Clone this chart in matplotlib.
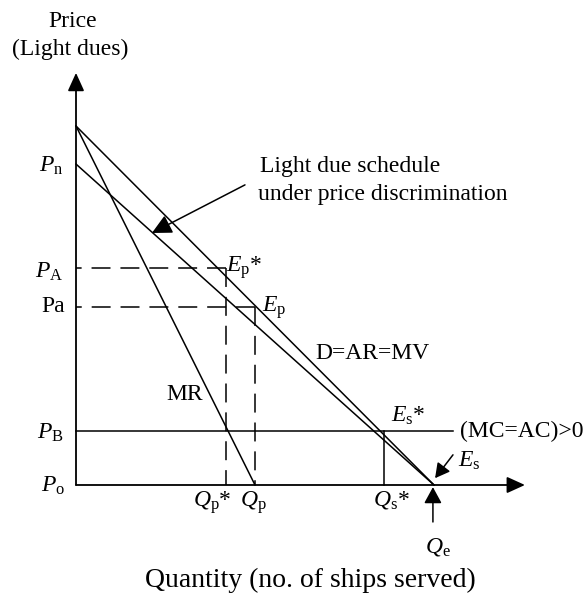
import matplotlib
matplotlib.use("Agg")
import matplotlib.pyplot as plt

plt.rcParams['font.family'] = ['Liberation Serif', 'DejaVu Serif']
plt.rcParams['mathtext.fontset'] = 'custom'
plt.rcParams['mathtext.rm'] = 'Liberation Serif'
plt.rcParams['mathtext.it'] = 'Liberation Serif:italic'

# curves (quantity, price)
demand_q = [0, 100]
demand_p = [100, 0]
mr_q = [0, 50]
mr_p = [100, 0]
schedule_q = [0, 100]
schedule_p = [89.4, 0]

# price levels
p_n = 89.4
p_A = 60.4
p_a = 49.6
p_B = 15.0
p_o = 0.0

# quantities
q_p_star = 42.0
q_p = 50.0
q_s_star = 86.0
q_e = 100.0
mc_end = 105.3

fig = plt.figure(figsize=(5.85, 5.97), dpi=100)
ax = fig.add_axes([0, 0, 1, 1])
ax.set_xlim(-21.23, 142.18)
ax.set_ylim(-31.2, 135.1)
ax.axis('off')

lw = 1.1
k = 'black'

# axes with arrow heads
ax.annotate('', xy=(0, 114.8), xytext=(0, 0),
            arrowprops=dict(arrowstyle='-|>,head_length=0.55,head_width=0.25',
                            mutation_scale=20, color=k, lw=1.3,
                            shrinkA=0, shrinkB=0))
ax.annotate('', xy=(125.4, 0), xytext=(0, 0),
            arrowprops=dict(arrowstyle='-|>,head_length=0.55,head_width=0.25',
                            mutation_scale=20, color=k, lw=1.3,
                            shrinkA=0, shrinkB=0))

ax.plot(demand_q, demand_p, color=k, lw=lw)
ax.plot(mr_q, mr_p, color=k, lw=lw)
ax.plot(schedule_q, schedule_p, color=k, lw=lw)

# MC = AC line and Es* drop
ax.plot([0, mc_end], [p_B, p_B], color=k, lw=lw)
ax.plot([q_s_star, q_s_star], [0, p_B], color=k, lw=lw)

# dashed guides, drawn outward from the equilibrium points
dash = dict(color=k, lw=lw, dashes=(12.4, 6.5))
ax.plot([q_p_star, 0], [p_A, p_A], **dash)
ax.plot([q_p_star, q_p_star], [p_A, 0], **dash)
ax.plot([q_p, 0], [p_a, p_a], **dash)
ax.plot([q_p, q_p], [p_a, 0], **dash)

fs = 17
sub = dict(fontsize=fs, color=k)

# price labels
ax.text(-3.5, p_n - 2.2, r'$P_{\mathrm{n}}$', ha='right', va='baseline', **sub)
ax.text(-3.5, p_A - 2.7, r'$P_{\mathrm{A}}$', ha='right', va='baseline', **sub)
ax.text(-3.0, p_a - 1.4, 'Pa', ha='right', va='baseline', **sub)
ax.text(-3.5, p_B - 2.2, r'$P_{\mathrm{B}}$', ha='right', va='baseline', **sub)
ax.text(-3.0, p_o - 2.0, r'$P_{\mathrm{o}}$', ha='right', va='baseline', **sub)

ax.text(-0.8, 129.0, 'Price', ha='center', va='center', **sub)
ax.text(-1.5, 121.2, '(Light dues)', ha='center', va='center', **sub)

# quantity labels
ax.text(38.0, -6.1, r'$Q_{\mathrm{p}}$*', ha='center', va='baseline', **sub)
ax.text(49.5, -6.1, r'$Q_{\mathrm{p}}$', ha='center', va='baseline', **sub)
ax.text(88.0, -5.6, r'$Q_{\mathrm{s}}$*', ha='center', va='baseline', **sub)
ax.text(101.0, -18.7, r'$Q_{\mathrm{e}}$', ha='center', va='baseline', **sub)
ax.text(65.4, -26.5, 'Quantity (no. of ships served)', ha='center', va='center',
        fontsize=20, color=k)

# equilibrium points and curve names
ax.text(41.9, 59.3, r'$E_{\mathrm{p}}$*', ha='left', va='baseline', **sub)
ax.text(52.0, 48.2, r'$E_{\mathrm{p}}$', ha='left', va='baseline', **sub)
ax.text(88.0, 17.5, r'$E_{\mathrm{s}}$*', ha='left', va='baseline', **sub)
ax.text(106.7, 5.0, r'$E_{\mathrm{s}}$', ha='left', va='baseline', **sub)
ax.text(107.3, p_B, '(MC=AC)>0', ha='left', va='center', **sub)
ax.text(30.4, 25.1, 'MR', ha='center', va='center', **sub)
ax.text(66.8, 36.5, 'D=AR=MV', ha='left', va='center', **sub)
ax.text(51.4, 88.6, 'Light due schedule', ha='left', va='center', **sub)
ax.text(50.8, 80.8, 'under price discrimination', ha='left', va='center', **sub)

# pointer arrows
ax.annotate('', xy=(21.2, 70.2), xytext=(47.2, 83.6),
            arrowprops=dict(arrowstyle='-|>,head_length=0.6,head_width=0.3',
                            mutation_scale=20, color=k, lw=lw,
                            shrinkA=0, shrinkB=0))
ax.annotate('', xy=(100.3, 1.9), xytext=(105.3, 8.4),
            arrowprops=dict(arrowstyle='-|>,head_length=0.55,head_width=0.3',
                            mutation_scale=16, color=k, lw=lw,
                            shrinkA=0, shrinkB=0))
ax.annotate('', xy=(99.7, -0.6), xytext=(99.7, -10.3),
            arrowprops=dict(arrowstyle='-|>,head_length=0.55,head_width=0.3',
                            mutation_scale=18, color=k, lw=lw,
                            shrinkA=0, shrinkB=0))

fig.savefig('out.png', dpi=100)
